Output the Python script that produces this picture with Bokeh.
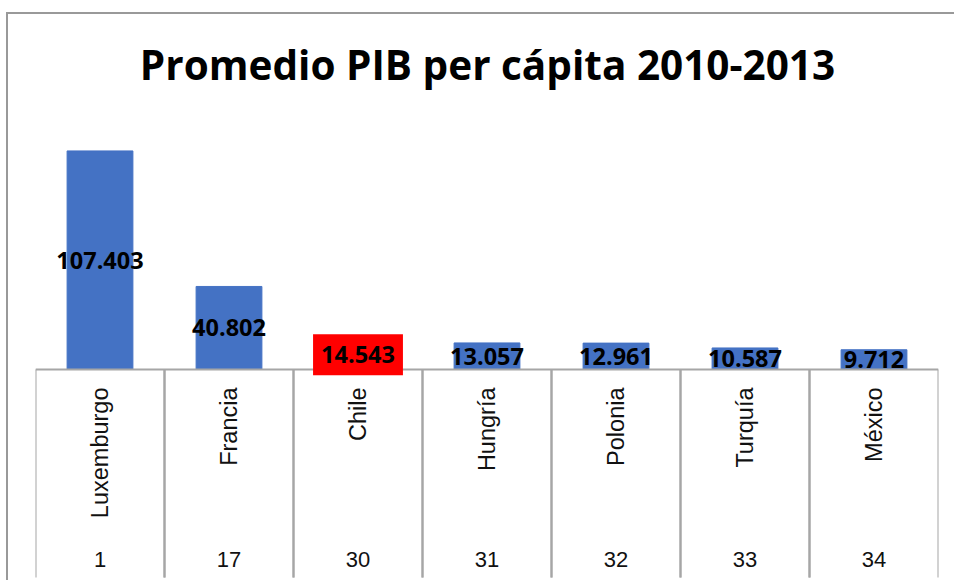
from math import pi

from bokeh.core.properties import value
from bokeh.embed import file_html
from bokeh.models import ColumnDataSource, FactorRange, Label, Range1d
from bokeh.plotting import figure
from bokeh.resources import INLINE
from bokeh.transform import dodge

# ---- data -------------------------------------------------------------
countries = ["Luxemburgo", "Francia", "Chile", "Hungría", "Polonia", "Turquía", "México"]
gdp_pc = [107403, 40802, 14543, 13057, 12961, 10587, 9712]   # USD, promedio 2010-2013
ranks = ["1", "17", "30", "31", "32", "33", "34"]
highlight = "Chile"
title_text = "Promedio PIB per cápita 2010-2013"

# ---- styling ---------------------------------------------------------
BLUE = "#4472C4"
RED = "#FF0000"
GRID = "#A6A6A6"
BORDER = "#999999"

W, H = 948, 568
PX_PER_UNIT = 0.002035          # vertical scale (pixels per USD)
ZERO_FROM_TOP = 355             # pixels from frame top to the baseline
TABLE_DEPTH = 208               # pixels of the category table below the baseline

labels = [f"{v:,}".replace(",", ".") for v in gdp_pc]
label_bg = [RED if c == highlight else "rgba(0,0,0,0)" for c in countries]

src = ColumnDataSource(dict(
    country=countries,
    gdp=gdp_pc,
    half=[v / 2 for v in gdp_pc],
    label=labels,
    label_bg=label_bg,
    rank=ranks,
))

y_end = ZERO_FROM_TOP / PX_PER_UNIT
y_start = -(H - ZERO_FROM_TOP) / PX_PER_UNIT
table_bottom = -TABLE_DEPTH / PX_PER_UNIT

p = figure(
    width=W, height=H,
    x_range=FactorRange(*countries, range_padding=0),
    y_range=Range1d(y_start, y_end),
    output_backend="svg", toolbar_location=None,
    min_border_left=27, min_border_right=18, min_border_top=0, min_border_bottom=0,
)
p.axis.visible = False
p.grid.visible = False
p.outline_line_color = None
p.background_fill_color = "white"
p.border_fill_color = "white"
# outer chart border (left and top edges only)
p.styles = {
    "border-left": f"2px solid {BORDER}",
    "border-top": f"2px solid {BORDER}",
    "position": "relative",
    "left": "6px",
    "top": "12px",
}

# bars
p.vbar(x="country", top="gdp", bottom=0, width=0.51, color=BLUE, source=src)

# table under the bars
p.hspan(y=[0], line_color=GRID, line_width=2)
for off in (-0.5, 0.5):
    p.segment(x0=dodge("country", off, range=p.x_range), y0=0,
              x1=dodge("country", off, range=p.x_range), y1=table_bottom,
              line_color=GRID, line_width=2, source=src)

# value labels
p.text(x="country", y="half", text="label", source=src,
       text_align="center", text_baseline="middle", y_offset=0,
       text_font=value("Open Sans"), text_font_style="bold",
       text_font_size="23.5px", text_color="black",
       background_fill_color="label_bg", padding=(8, 12))

# category names (rotated) and ranks
p.text(x="country", y=0, text="country", source=src, angle=pi / 2,
       text_align="right", text_baseline="middle", y_offset=18,
       text_font=value("Liberation Sans"), text_font_size="23.5px",
       text_color="#111111")
p.text(x="country", y=0, text="rank", source=src,
       text_align="center", text_baseline="middle", y_offset=190,
       text_font=value("Liberation Sans"), text_font_size="22px",
       text_color="#111111")

# title
p.add_layout(Label(x=452, y=518, x_units="screen", y_units="screen",
                   text=title_text, text_align="center",
                   text_baseline="alphabetic",
                   text_font="Open Sans", text_font_style="bold",
                   text_font_size="40.5px", text_color="black"))

open("out.html", "w").write(file_html(p, INLINE))
